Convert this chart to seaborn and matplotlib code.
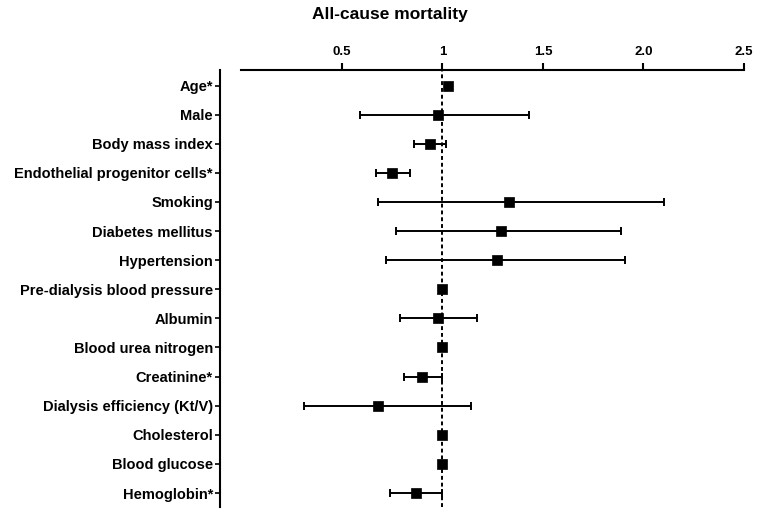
import matplotlib
matplotlib.use("Agg")
import matplotlib.pyplot as plt
import seaborn as sns
import pandas as pd

# hazard ratios with 95% CI
factors = ["Age*", "Male", "Body mass index", "Endothelial progenitor cells*",
           "Smoking", "Diabetes mellitus", "Hypertension",
           "Pre-dialysis blood pressure", "Albumin", "Blood urea nitrogen",
           "Creatinine*", "Dialysis efficiency (Kt/V)", "Cholesterol",
           "Blood glucose", "Hemoglobin*"]
hr = [1.03, 0.98, 0.94, 0.75, 1.33, 1.29, 1.27, 1.00, 0.98, 1.00,
      0.90, 0.68, 1.00, 1.00, 0.87]
ci_low = [1.02, 0.59, 0.86, 0.67, 0.68, 0.77, 0.72, 0.99, 0.79, 0.99,
          0.81, 0.31, 0.99, 0.99, 0.74]
ci_high = [1.05, 1.43, 1.02, 0.84, 2.10, 1.89, 1.91, 1.01, 1.17, 1.01,
           1.00, 1.14, 1.01, 1.01, 1.00]
xticks = [0.5, 1, 1.5, 2.0, 2.5]
xtick_labels = ["0.5", "1", "1.5", "2.0", "2.5"]

df = pd.DataFrame({"factor": factors, "hr": hr, "lo": ci_low, "hi": ci_high})
df["pos"] = range(len(df))

sns.set_style("ticks", {"axes.edgecolor": "black", "text.color": "black",
                        "xtick.color": "black", "ytick.color": "black"})
plt.rcParams["font.family"] = ["Liberation Sans", "DejaVu Sans"]
plt.rcParams["font.weight"] = "bold"

fig = plt.figure(figsize=(7.58, 5.12), dpi=100)
ax = fig.add_axes([220 / 758, 1 - 507 / 512, (744 - 220) / 758, (507 - 69.5) / 512])

# reference line at HR = 1
ax.axvline(1, color="black", lw=1.4, linestyle=(0, (2, 1.5)), zorder=1)

# confidence intervals
ax.errorbar(df["hr"], df["pos"],
            xerr=[df["hr"] - df["lo"], df["hi"] - df["hr"]],
            fmt="none", ecolor="black", elinewidth=1.4, capsize=3.2,
            capthick=1.4, zorder=2)

# point estimates
sns.scatterplot(data=df, x="hr", y="pos", marker="s", s=44, color="black",
                edgecolor="black", linewidth=0.5, ax=ax, zorder=3)

ax.set_xlim(-0.106, 2.5)
ax.set_ylim(len(df) - 1 + 0.48, -0.55)

ax.xaxis.tick_top()
ax.set_xticks(xticks)
ax.set_xticklabels(xtick_labels, fontsize=9.5, fontweight="bold", color="black")
ax.set_yticks(df["pos"])
ax.set_yticklabels(df["factor"], fontsize=10.5, fontweight="bold", color="black")
ax.set_xlabel("")
ax.set_ylabel("")

for side in ["bottom", "right"]:
    ax.spines[side].set_visible(False)
ax.spines["top"].set_bounds(0, 2.5)
ax.spines["top"].set_linewidth(1.5)
ax.spines["left"].set_linewidth(1.5)
ax.tick_params(axis="x", top=True, bottom=False, length=5, width=1.5, pad=3.5)
ax.tick_params(axis="y", length=3.6, width=1.2, pad=1.5)

fig.text(390 / 758, 1 - 14 / 512, "All-cause mortality", ha="center",
         va="center", fontsize=12.5, fontweight="bold", color="black")

fig.savefig("out.png", dpi=100)
